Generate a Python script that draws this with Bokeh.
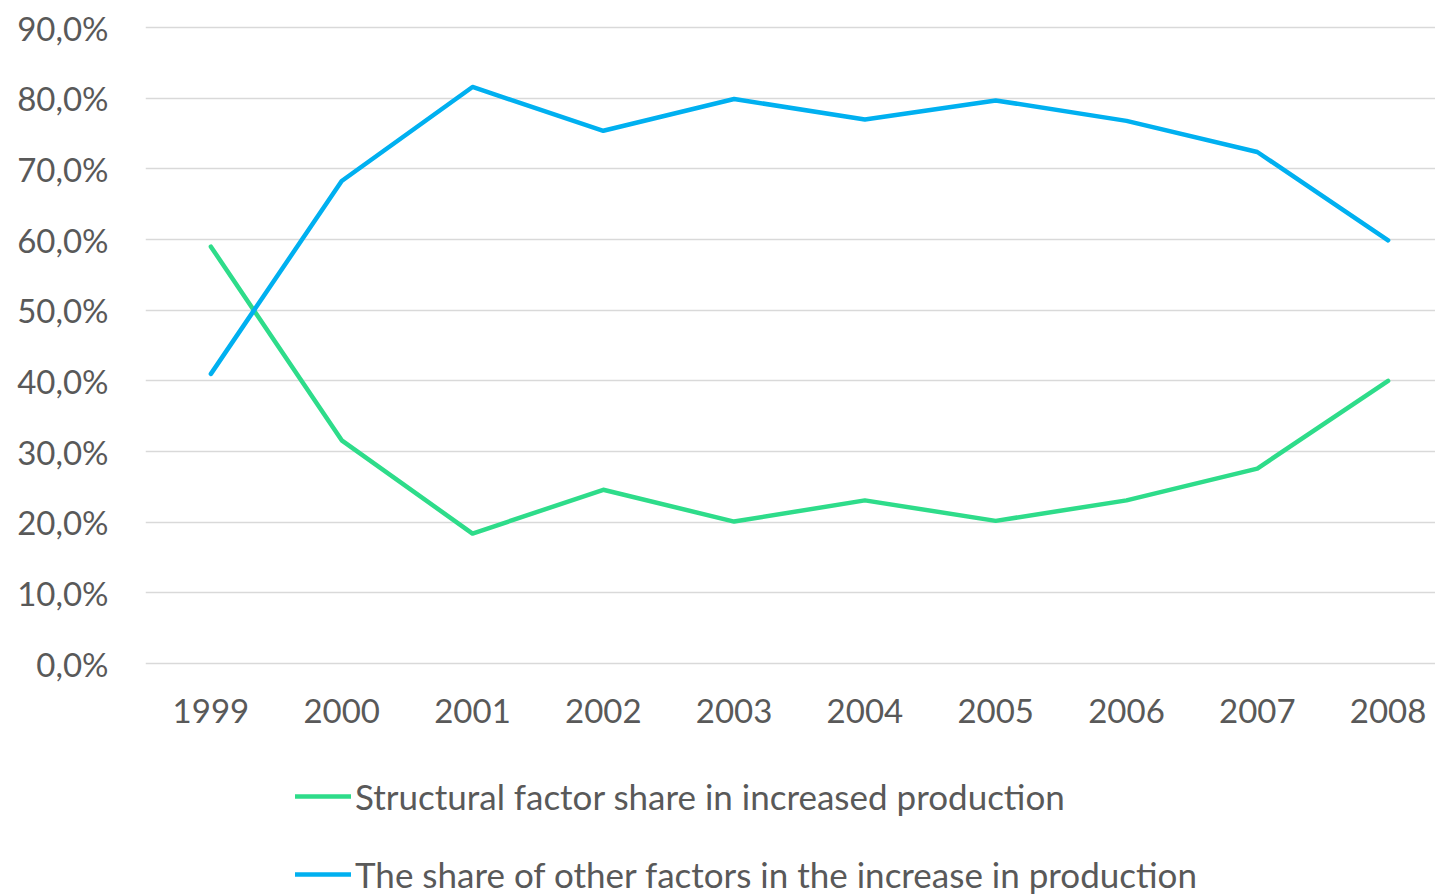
from bokeh.plotting import figure
from bokeh.models import Range1d, FixedTicker, Legend, LegendItem
from bokeh.core.properties import value
from bokeh.embed import file_html
from bokeh.resources import INLINE

years = [1999, 2000, 2001, 2002, 2003, 2004, 2005, 2006, 2007, 2008]
structural = [59.0, 31.6, 18.4, 24.6, 20.1, 23.1, 20.2, 23.1, 27.6, 40.0]
other = [41.0, 68.3, 81.6, 75.4, 79.9, 77.0, 79.7, 76.8, 72.4, 59.9]
y_ticks = [0, 10, 20, 30, 40, 50, 60, 70, 80, 90]
y_tick_labels = ["0,0%", "10,0%", "20,0%", "30,0%", "40,0%", "50,0%", "60,0%", "70,0%", "80,0%", "90,0%"]
year_labels = [str(y) for y in years]
series_names = ["Structural factor share in increased production",
                "The share of other factors in the increase in production"]
colors = ["#2EDC8A", "#00B0F0"]

FONT = "Lato"
TXT = "#595959"
PX_PER_UNIT = 636 / 90.0
TOP = 90.3
FRAME_H = 894 - 25

p = figure(width=1435, height=894, output_backend="svg", toolbar_location=None,
           x_range=Range1d(1998.5, 1998.5 + 1290 / 130.8),
           y_range=Range1d(TOP - FRAME_H / PX_PER_UNIT, TOP),
           min_border_left=145, min_border_right=0, min_border_top=25, min_border_bottom=0)
p.outline_line_color = None
p.background_fill_color = "white"
p.border_fill_color = "white"

r1 = p.line(years, structural, line_color=colors[0], line_width=4.5,
            line_join="round", line_cap="round")
r2 = p.line(years, other, line_color=colors[1], line_width=4.5,
            line_join="round", line_cap="round")

# category labels under the baseline
p.text(x=years, y=[y_ticks[0]] * len(years), text=year_labels, y_offset=47,
       text_align="center", text_baseline="middle", text_font=value(FONT),
       text_font_size="33px", text_color=TXT)

p.xaxis.visible = False
p.yaxis.ticker = FixedTicker(ticks=y_ticks)
p.yaxis.major_label_overrides = {t: l for t, l in zip(y_ticks, y_tick_labels)}
p.yaxis.axis_line_color = None
p.yaxis.major_tick_line_color = None
p.yaxis.minor_tick_line_color = None
p.yaxis.major_label_text_font = FONT
p.yaxis.major_label_text_font_size = "33px"
p.yaxis.major_label_text_color = TXT
p.yaxis.major_label_standoff = 31

p.xgrid.grid_line_color = None
p.ygrid.grid_line_color = "#D9D9D9"
p.ygrid.grid_line_width = 1.5

legend = Legend(items=[LegendItem(label=series_names[0], renderers=[r1]),
                       LegendItem(label=series_names[1], renderers=[r2])],
                location=(150, -1), orientation="vertical")
legend.border_line_color = None
legend.background_fill_alpha = 0
legend.padding = 0
legend.margin = 0
legend.spacing = 36
legend.glyph_width = 56
legend.glyph_height = 40
legend.label_height = 40
legend.label_standoff = 4
legend.label_text_font = FONT
legend.label_text_font_size = "35px"
legend.label_text_color = TXT
p.add_layout(legend, "center")

open("out.html", "w").write(file_html(p, INLINE))
